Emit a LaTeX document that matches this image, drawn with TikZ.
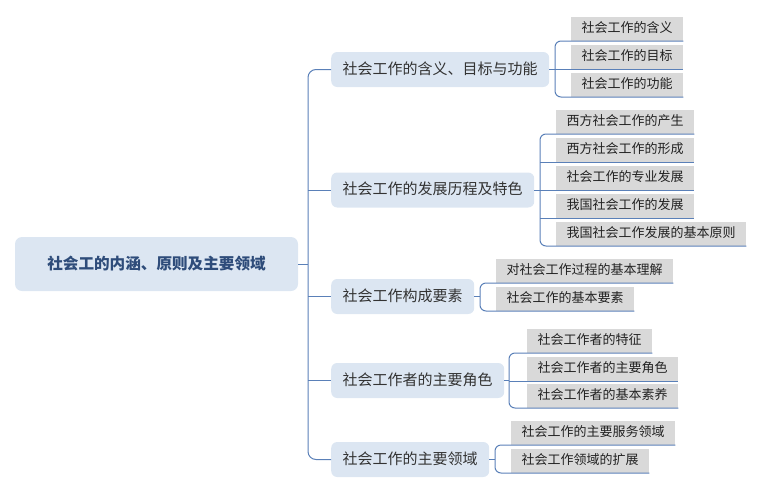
\documentclass[tikz,border=0pt]{standalone}
\usepackage{fontspec}
\newfontfamily\cjk{Noto Sans CJK SC}
\definecolor{conn}{HTML}{5A80B8}
\definecolor{bfill}{HTML}{DCE6F2}
\definecolor{lfill}{HTML}{D9D9D9}
\definecolor{roottext}{HTML}{2E4C7A}
\definecolor{btext}{HTML}{333333}
\definecolor{ltext}{HTML}{222222}
\tikzset{
  rootbox/.style={rectangle, rounded corners=7pt, fill=bfill, minimum width=283pt, minimum height=54pt,
    font=\cjk\bfseries\fontsize{15.6}{18}\selectfont, text=roottext, inner sep=0pt},
  branchbox/.style={rectangle, rounded corners=6pt, fill=bfill, minimum height=35pt, inner xsep=11.5pt,
    inner ysep=0pt, anchor=west, font=\cjk\fontsize{15}{18}\selectfont, text=btext,
    text height=11pt, text depth=2pt},
  leafbox/.style={rectangle, fill=lfill, minimum height=24pt, inner xsep=10.5pt, inner ysep=0pt,
    anchor=south west, font=\cjk\fontsize{13}{16}\selectfont, text=ltext,
    text height=10pt, text depth=2pt},
  link/.style={draw=conn, line width=1pt},
}
\begin{document}
\begin{tikzpicture}[x=1pt,y=-1pt]
\useasboundingbox (0,0) rectangle (763,493);
% root
\node[rootbox] (root) at (156.5,264) {社会工的内涵、原则及主要领域};
% branches
\node[branchbox] (b1) at (331,69.5) {社会工作的含义、目标与功能};
\node[branchbox] (b2) at (331,190) {社会工作的发展历程及特色};
\node[branchbox] (b3) at (331,296.5) {社会工作构成要素};
\node[branchbox] (b4) at (331,380.5) {社会工作者的主要角色};
\node[branchbox] (b5) at (331,459.5) {社会工作的主要领域};
% trunk
\coordinate (trunk) at (308,0);
\draw[link] (root.east) -- (root.east -| trunk);
\draw[link, rounded corners=8pt] (b1.west) -- (b1.west -| trunk) -- (b5.west -| trunk) -- (b5.west);
\draw[link] (b2.west -| trunk) -- (b2.west);
\draw[link] (b3.west -| trunk) -- (b3.west);
\draw[link] (b4.west -| trunk) -- (b4.west);
% leaves of b1
\node[leafbox] (l11) at (571,41) {社会工作的含义};
\node[leafbox] (l12) at (571,69) {社会工作的目标};
\node[leafbox] (l13) at (571,97) {社会工作的功能};
\coordinate (k1) at (555,0);
\draw[link] (b1.east) -- (b1.east -| k1);
\draw[link, rounded corners=6pt] (l11.south east) -- (l11.south east -| k1) -- (l13.south east -| k1) -- (l13.south east);
\draw[link] (l12.south east -| k1) -- (l12.south east);
% leaves of b2
\node[leafbox] (l21) at (556,134) {西方社会工作的产生};
\node[leafbox] (l22) at (556,162) {西方社会工作的形成};
\node[leafbox] (l23) at (556,190) {社会工作的专业发展};
\node[leafbox] (l24) at (556,218) {我国社会工作的发展};
\node[leafbox] (l25) at (556,246) {我国社会工作发展的基本原则};
\coordinate (k2) at (540,0);
\draw[link] (b2.east) -- (b2.east -| k2);
\draw[link, rounded corners=6pt] (l21.south east) -- (l21.south east -| k2) -- (l25.south east -| k2) -- (l25.south east);
\draw[link] (l22.south east -| k2) -- (l22.south east);
\draw[link] (l23.south east -| k2) -- (l23.south east);
\draw[link] (l24.south east -| k2) -- (l24.south east);
% leaves of b3
\node[leafbox] (l31) at (496,283) {对社会工作过程的基本理解};
\node[leafbox] (l32) at (496,311) {社会工作的基本要素};
\coordinate (k3) at (480,0);
\draw[link] (b3.east) -- (b3.east -| k3);
\draw[link, rounded corners=6pt] (l31.south east) -- (l31.south east -| k3) -- (l32.south east -| k3) -- (l32.south east);
% leaves of b4
\node[leafbox] (l41) at (527,353) {社会工作者的特征};
\node[leafbox] (l42) at (527,381) {社会工作者的主要角色};
\node[leafbox] (l43) at (527,408) {社会工作者的基本素养};
\coordinate (k4) at (509,0);
\draw[link] (b4.east) -- (b4.east -| k4);
\draw[link, rounded corners=6pt] (l41.south east) -- (l41.south east -| k4) -- (l43.south east -| k4) -- (l43.south east);
\draw[link] (l42.south east -| k4) -- (l42.south east);
% leaves of b5
\node[leafbox] (l51) at (511,445) {社会工作的主要服务领域};
\node[leafbox] (l52) at (511,473) {社会工作领域的扩展};
\coordinate (k5) at (495,0);
\draw[link] (b5.east) -- (b5.east -| k5);
\draw[link, rounded corners=6pt] (l51.south east) -- (l51.south east -| k5) -- (l52.south east -| k5) -- (l52.south east);
\end{tikzpicture}
\end{document}
